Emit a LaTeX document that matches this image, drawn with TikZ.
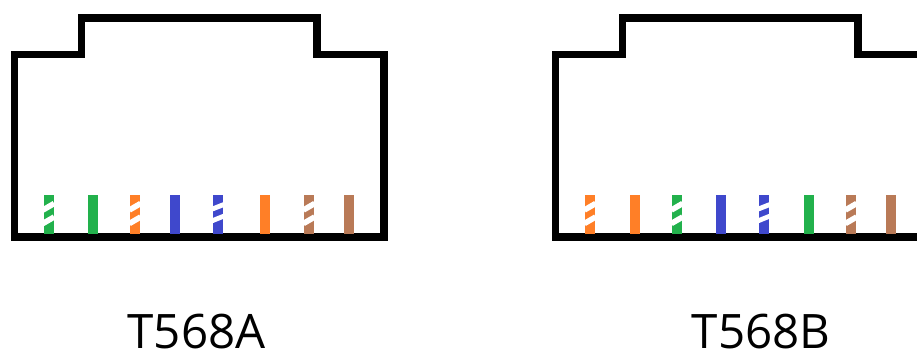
\documentclass[tikz,border=0pt]{standalone}
\usepackage{fontspec}
\setmainfont{Open Sans}
\definecolor{wgreen}{HTML}{22B14C}
\definecolor{worange}{HTML}{FF7F27}
\definecolor{wblue}{HTML}{3F48CC}
\definecolor{wbrown}{HTML}{B97A57}
\tikzset{
  jack/.style={draw=black,line width=7.5pt,line join=miter},
  stripe/.style={draw=white,line width=5.6pt},
  stripethin/.style={draw=white,line width=4.8pt},
  label/.style={font=\fontsize{47.5}{47.5}\selectfont,text=black,anchor=base,inner sep=0pt},
}
\newcommand{\solidwire}[2]{\fill[#2] (#1-5,195) rectangle (#1+5,233.5);}
\newcommand{\stripewire}[2]{%
  \fill[#2] (#1-5,195) rectangle (#1+5,233.5);
  \draw[stripe] (#1-5.6,210) -- (#1+5.6,203.5);
  \draw[stripe] (#1-5.6,223.5) -- (#1+5.6,217);
}
\newcommand{\bluestripewire}[1]{%
  \fill[wblue] (#1-5,195) rectangle (#1+5,233.5);
  \draw[stripethin] (#1-5.6,209) -- (#1+5.6,204.6);
  \draw[stripethin] (#1-5.6,220.7) -- (#1+5.6,216.2);
}
\begin{document}
\begin{tikzpicture}[x=1pt,y=-1pt]
\useasboundingbox (0,0) rectangle (917,351);
\begin{scope}
\clip (0,0) rectangle (917,351);
\draw[jack] (14.5,237) -- (14.5,54.5) -- (81.5,54.5) -- (81.5,18) -- (317,18) -- (317,54.5) -- (384,54.5) -- (384,237) -- cycle;
\draw[jack] (555.5,237) -- (555.5,54.5) -- (622.5,54.5) -- (622.5,18) -- (858,18) -- (858,54.5) -- (925,54.5) -- (925,237) -- cycle;
\end{scope}
\stripewire{48.5}{wgreen}
\solidwire{93}{wgreen}
\stripewire{135}{worange}
\solidwire{175}{wblue}
\bluestripewire{218}
\solidwire{265}{worange}
\stripewire{309}{wbrown}
\solidwire{349}{wbrown}
\stripewire{590}{worange}
\solidwire{634.5}{worange}
\stripewire{677}{wgreen}
\solidwire{721}{wblue}
\bluestripewire{764}
\solidwire{809}{wgreen}
\stripewire{851}{wbrown}
\solidwire{891}{wbrown}
\node[label] (a) at (196.5,348) {T568A};
\node[label] (b) at (761,348) {T568B};
\end{tikzpicture}
\end{document}
